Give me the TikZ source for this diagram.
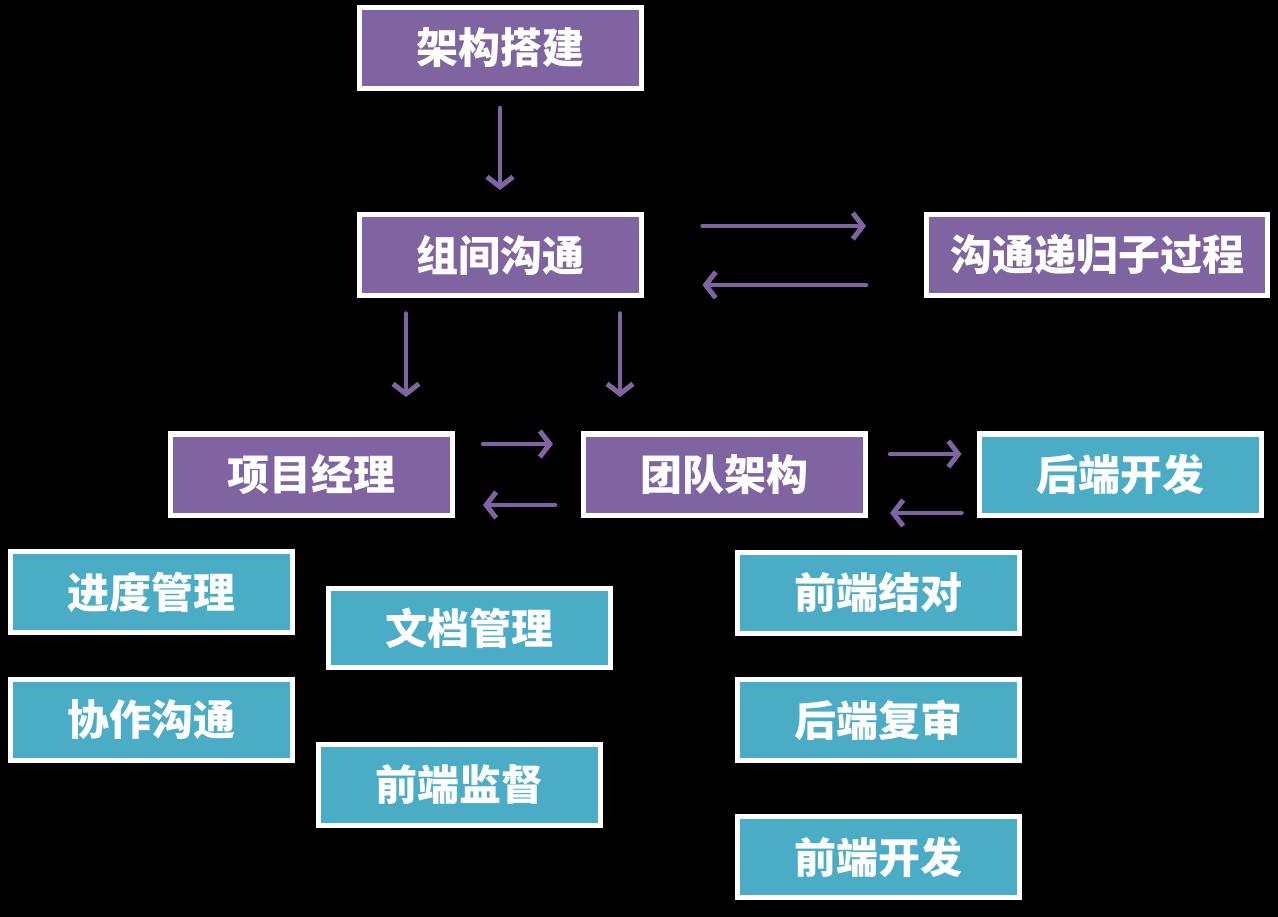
\documentclass[tikz,border=0pt]{standalone}
\usepackage{fontspec}
\newfontfamily\cjk{Noto Sans CJK SC}
\usetikzlibrary{arrows.meta}
\definecolor{pur}{HTML}{8064A2}
\definecolor{teal}{HTML}{4BACC6}
\tikzset{
  box/.style={draw=white, line width=5pt, outer sep=0pt, inner sep=0pt,
    minimum width=282pt, minimum height=81pt, text=white,
    font=\cjk\bfseries\fontsize{42}{44}\selectfont},
  pbox/.style={box, fill=pur},
  tbox/.style={box, fill=teal},
  arr/.style={draw=pur, line width=4.5pt, line cap=round, -{Straight Barb[length=10pt,width=26pt,line width=5pt]}}
}
\begin{document}
\begin{tikzpicture}[x=1pt,y=1pt]
\fill[black] (0,0) rectangle (1278,-917);
\useasboundingbox (0,0) rectangle (1278,-917);
\node[pbox] (A) at (500,-48) {架构搭建};
\node[pbox] (B) at (500,-255) {组间沟通};
\node[pbox, minimum width=341pt] (C) at (1097,-255) {沟通递归子过程};
\node[pbox] (D) at (311.5,-474.5) {项目经理};
\node[pbox] (E) at (724.5,-474.5) {团队架构};
\node[tbox] (F) at (1120,-474.5) {后端开发};
\node[tbox] (G) at (151.5,-592) {进度管理};
\node[tbox, minimum height=79pt] (H) at (469.5,-628) {文档管理};
\node[tbox] (I) at (151.5,-720) {协作沟通};
\node[tbox] (J) at (459.5,-785) {前端监督};
\node[tbox] (K) at (878,-592.5) {前端结对};
\node[tbox] (L) at (878,-720) {后端复审};
\node[tbox] (M) at (878,-857) {前端开发};
% arrows
\draw[arr, shorten <=19.5pt, shorten >=24.5pt] (A.south) -- (B.north);
\draw[arr, shorten <=61.5pt, shorten >=60.5pt] ([yshift=29pt]B.east) -- ([yshift=29pt]B.east -| C.west);
\draw[arr, shorten <=60.5pt, shorten >=61.5pt] ([yshift=-30pt]C.west) -- ([yshift=-30pt]C.west -| B.east);
\draw[arr, shorten <=18pt, shorten >=37pt] ([xshift=-94pt]B.south) -- ([xshift=-94pt]B.south |- D.north);
\draw[arr, shorten <=18pt, shorten >=37pt] ([xshift=120pt]B.south) -- ([xshift=120pt]B.south |- E.north);
\draw[arr, shorten <=30.5pt, shorten >=30.5pt] ([yshift=30.5pt]D.east) -- ([yshift=30.5pt]D.east -| E.west);
\draw[arr, shorten <=28.5pt, shorten >=30.5pt] ([yshift=-30.5pt]E.west) -- ([yshift=-30.5pt]E.west -| D.east);
\draw[arr, shorten <=24.5pt, shorten >=17.5pt] ([yshift=20.5pt]E.east) -- ([yshift=20.5pt]E.east -| F.west);
\draw[arr, shorten <=17.5pt, shorten >=24.5pt] ([yshift=-38.5pt]F.west) -- ([yshift=-38.5pt]F.west -| E.east);
\end{tikzpicture}
\end{document}
